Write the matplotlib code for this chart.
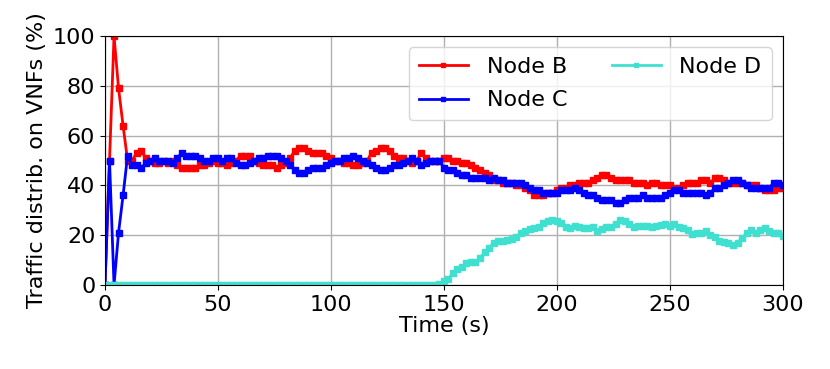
import numpy as np
import matplotlib
matplotlib.use("Agg")
import matplotlib.pyplot as plt

# time axis: one sample every 2 s
time_s = list(range(0, 301, 2))

node_b = [0, 50, 100, 79, 64, 50, 50, 53, 54, 51,
          50, 49, 49, 50, 49, 50, 48, 47, 47, 47,
          47, 48, 48, 49, 50, 49, 49, 48, 49, 50,
          52, 52, 52, 50, 49, 48, 48, 48, 47, 48,
          49, 51, 54, 55, 55, 54, 53, 53, 53, 52,
          51, 50, 50, 49, 49, 48, 48, 49, 50, 53,
          54, 55, 55, 54, 52, 51, 51, 50, 49, 50,
          53, 51, 50, 50, 50, 51, 51, 50, 50, 49,
          49, 48, 47, 46, 45, 44, 42, 42, 41, 41,
          41, 40, 40, 39, 38, 36, 36, 36, 37, 37,
          38, 39, 39, 40, 40, 41, 41, 41, 42, 43,
          44, 44, 43, 42, 42, 42, 42, 41, 41, 41,
          40, 41, 41, 40, 40, 40, 39, 39, 40, 41,
          41, 41, 42, 42, 41, 43, 43, 42, 41, 41,
          41, 41, 40, 40, 40, 39, 38, 38, 38, 39,
          39]

node_c = [0, 50, 0, 21, 36, 52, 48, 48, 47, 49,
          50, 51, 50, 50, 50, 49, 51, 53, 52, 52,
          52, 51, 50, 50, 51, 51, 50, 51, 51, 49,
          48, 48, 49, 50, 51, 51, 52, 52, 52, 51,
          50, 48, 46, 45, 45, 46, 47, 47, 47, 48,
          49, 50, 50, 51, 51, 52, 51, 50, 49, 48,
          47, 46, 46, 47, 48, 48, 49, 50, 51, 50,
          48, 49, 50, 50, 50, 47, 46, 46, 45, 44,
          44, 43, 43, 43, 43, 42, 43, 42, 42, 41,
          41, 41, 41, 40, 39, 38, 38, 37, 37, 37,
          37, 38, 38, 38, 39, 38, 37, 36, 36, 35,
          34, 34, 34, 33, 33, 34, 35, 35, 35, 36,
          35, 35, 35, 35, 36, 37, 38, 38, 37, 37,
          37, 37, 37, 36, 37, 39, 39, 40, 41, 42,
          42, 41, 40, 39, 39, 39, 39, 39, 41, 41,
          40]

node_d = [0] * 74 + [
          0.3, 1.6, 2.3, 5.0, 6.4, 7.1, 8.8, 9.4, 9.4, 10.7,
          13.2, 14.8, 17.0, 17.6, 17.8, 18.1, 18.4, 19.3, 20.7, 21.6,
          22.4, 23.0, 23.3, 24.8, 25.7, 26.1, 25.7, 25.0, 23.4, 22.7,
          23.8, 23.1, 22.7, 22.7, 23.3, 21.8, 22.4, 23.3, 23.1, 24.4,
          26.0, 25.7, 24.5, 23.4, 23.7, 23.7, 23.8, 23.3, 23.8, 24.1,
          24.4, 23.8, 24.5, 23.5, 23.0, 22.0, 20.4, 21.0, 21.0, 21.6,
          20.0, 19.3, 17.6, 17.3, 17.0, 16.2, 17.0, 18.9, 20.7, 22.0,
          20.7, 22.0, 23.0, 21.6, 20.7, 20.7, 19.7]

fig = plt.figure(figsize=(8.3, 3.69), dpi=100)
ax = fig.add_axes([0.1265, 0.2276, 0.8165, 0.6748])

ax.plot(time_s, node_b, color="red", marker="s", markersize=4, linewidth=2, label="Node B")
ax.plot(time_s, node_c, color="blue", marker="s", markersize=4, linewidth=2, label="Node C")
ax.plot(time_s, node_d, color="turquoise", marker="s", markersize=4, linewidth=2, label="Node D")

ax.set_xlim(0, 300)
ax.set_ylim(0, 100)
ax.set_xticks([0, 50, 100, 150, 200, 250, 300])
ax.set_yticks([0, 20, 40, 60, 80, 100])
ax.tick_params(labelsize=16)
ax.set_xlabel("Time (s)", fontsize=16, labelpad=1)
ax.set_ylabel("Traffic distrib. on VNFs (%)", fontsize=16)
ax.grid(True, color="#b0b0b0", linewidth=1)
ax.legend(loc="upper right", ncol=2, fontsize=16, handlelength=2.2,
          handletextpad=0.85, columnspacing=2.0, labelspacing=0.6,
          borderpad=0.45, markerscale=0.8)

fig.savefig("out.png", dpi=100)
